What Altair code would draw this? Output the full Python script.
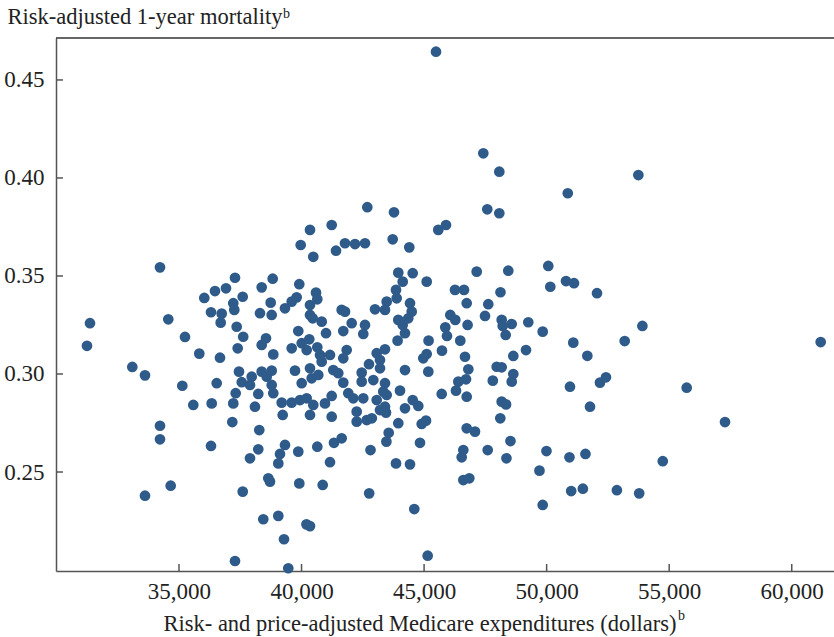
import altair as alt
import pandas as pd

# Risk- and price-adjusted Medicare expenditures (dollars)
expenditure = [
    31246, 31369, 34225, 34563, 35245, 35828, 36673, 33095, 33613, 35135,
    36538, 36032, 36469, 36918, 36306, 36742, 36701, 37285, 37215, 37256,
    37354, 37620, 37395, 37448, 37560, 37313, 35583, 36334, 37215, 34225,
    34225, 37175, 36306, 34661, 33613, 37285, 37600, 40345, 41230, 39965,
    40479, 41406, 41773, 42181, 42589, 38374, 38823, 37599, 39908, 40590,
    39802, 39598, 39324, 38741, 38305, 38782, 40345, 40643, 40345, 40455,
    40822, 40998, 41638, 41773, 42046, 41703, 42589, 42519, 38550, 38374,
    38847, 39867, 39598, 40006, 40316, 40210, 40643, 40753, 40822, 41161,
    41842, 41703, 37966, 38374, 38782, 38578, 38782, 37897, 39733, 40345,
    40006, 40414, 40683, 41295, 41499, 41703, 42454, 42454, 38235, 38100,
    38847, 39190, 39598, 39937, 40210, 40479, 40957, 41230, 41907, 42111,
    42519, 39231, 40345, 41230, 42250, 42250, 42660, 38276, 38235, 37897,
    39325, 39121, 39052, 39867, 40643, 41324, 41638, 41161, 42814, 38643,
    38713, 39908, 40863, 42760, 38439, 39052, 40200, 40345, 39284, 39459,
    45579, 45894, 43719, 44396, 43947, 44127, 44535, 45106, 47146, 46261,
    46628, 46738, 48117, 47619, 47485, 43854, 43882, 43474, 42997, 43405,
    44425, 44494, 44355, 43947, 44127, 44220, 43919, 45183, 46069, 46273,
    45865, 45934, 46775, 46477, 45729, 45106, 44967, 43405, 43066, 43201,
    42752, 43201, 42929, 43405, 43335, 43474, 44221, 45172, 46669, 47962,
    48166, 46805, 46711, 46397, 47803, 44017, 45718, 46302, 46738, 43066,
    43405, 44221, 44535, 44763, 48166, 48342, 42868, 43201, 43446, 43947,
    44902, 45078, 43556, 43462, 44833, 43854, 44425, 44600, 45146, 48109,
    46738, 47077, 47595, 46600, 46534, 46600, 46845, 45486, 47416, 48069,
    42683, 43772, 47578, 48069, 53742, 50862, 48435, 50067, 50790, 51116,
    50149, 52055, 48166, 48207, 48574, 49251, 49839, 48329, 53906, 51087,
    53184, 61181, 49158, 48640, 51660, 48640, 48575, 50952, 52176, 52421,
    55714, 51769, 57277, 48524, 48360, 49993, 50931, 51584, 54738, 49707,
    51001, 51478, 52866, 53776, 49839,
]

# Risk-adjusted 1-year mortality
mortality = [
    0.3144, 0.3259, 0.3544, 0.3279, 0.3189, 0.3104, 0.3083, 0.3036, 0.2993, 0.2940,
    0.2953, 0.3388, 0.3423, 0.3437, 0.3315, 0.3308, 0.3262, 0.3491, 0.3361, 0.3327,
    0.3241, 0.3190, 0.3131, 0.3012, 0.2958, 0.2902, 0.2842, 0.2850, 0.2850, 0.2736,
    0.2667, 0.2755, 0.2633, 0.2430, 0.2379, 0.2046, 0.2400, 0.3735, 0.3760, 0.3658,
    0.3598, 0.3629, 0.3667, 0.3663, 0.3667, 0.3442, 0.3486, 0.3394, 0.3458, 0.3415,
    0.3391, 0.3369, 0.3335, 0.3364, 0.3310, 0.3301, 0.3352, 0.3381, 0.3301, 0.3284,
    0.3267, 0.3208, 0.3327, 0.3318, 0.3259, 0.3219, 0.3250, 0.3204, 0.3182, 0.3148,
    0.3100, 0.3219, 0.3131, 0.3157, 0.3177, 0.3122, 0.3136, 0.3097, 0.3063, 0.3097,
    0.3122, 0.3080, 0.2986, 0.3012, 0.3017, 0.2986, 0.2944, 0.2944, 0.3017, 0.3029,
    0.2953, 0.2978, 0.2995, 0.3020, 0.3004, 0.2956, 0.3007, 0.2961, 0.2898, 0.2833,
    0.2902, 0.2854, 0.2854, 0.2867, 0.2876, 0.2842, 0.2850, 0.2888, 0.2902, 0.2876,
    0.2876, 0.2791, 0.2791, 0.2782, 0.2808, 0.2757, 0.2765, 0.2714, 0.2616, 0.2570,
    0.2638, 0.2592, 0.2544, 0.2604, 0.2629, 0.2649, 0.2672, 0.2550, 0.2612, 0.2468,
    0.2451, 0.2442, 0.2434, 0.2391, 0.2259, 0.2276, 0.2233, 0.2224, 0.2157, 0.2009,
    0.3735, 0.3760, 0.3687, 0.3646, 0.3517, 0.3471, 0.3514, 0.3471, 0.3522, 0.3429,
    0.3429, 0.3361, 0.3417, 0.3356, 0.3296, 0.3429, 0.3386, 0.3369, 0.3330, 0.3327,
    0.3361, 0.3318, 0.3284, 0.3276, 0.3250, 0.3208, 0.3170, 0.3170, 0.3301, 0.3276,
    0.3238, 0.3194, 0.3250, 0.3170, 0.3119, 0.3102, 0.3080, 0.3126, 0.3106, 0.3071,
    0.3050, 0.3029, 0.2969, 0.2953, 0.2910, 0.2893, 0.3020, 0.3012, 0.3088, 0.3037,
    0.3034, 0.3024, 0.2973, 0.2961, 0.2966, 0.2915, 0.2898, 0.2915, 0.2884, 0.2867,
    0.2833, 0.2825, 0.2867, 0.2837, 0.2859, 0.2845, 0.2774, 0.2816, 0.2803, 0.2749,
    0.2745, 0.2762, 0.2700, 0.2655, 0.2649, 0.2544, 0.2539, 0.2311, 0.2073, 0.2774,
    0.2723, 0.2706, 0.2612, 0.2612, 0.2575, 0.2459, 0.2468, 0.4644, 0.4126, 0.4032,
    0.3851, 0.3825, 0.3840, 0.3820, 0.4015, 0.3922, 0.3527, 0.3551, 0.3474, 0.3463,
    0.3445, 0.3412, 0.3276, 0.3245, 0.3255, 0.3264, 0.3216, 0.3199, 0.3245, 0.3160,
    0.3168, 0.3163, 0.3122, 0.3092, 0.3093, 0.3000, 0.2961, 0.2935, 0.2956, 0.2983,
    0.2930, 0.2833, 0.2755, 0.2658, 0.2570, 0.2607, 0.2575, 0.2592, 0.2555, 0.2507,
    0.2403, 0.2415, 0.2407, 0.2391, 0.2332,
]

x_ticks = [35000, 40000, 45000, 50000, 55000, 60000]
y_ticks = [0.25, 0.30, 0.35, 0.40, 0.45]
x_domain = [29982, 61724]
y_domain = [0.1995, 0.4714]

y_title = "Risk-adjusted 1-year mortality"
x_title = "Risk- and price-adjusted Medicare expenditures (dollars)"
footnote = "b"

FONT = "Liberation Serif"
DOT = "#2f5b8a"
INK = "#222222"
LINE = "#555555"
W, H = 778, 533

df = pd.DataFrame({"exp": expenditure, "mort": mortality})

xscale = alt.Scale(domain=x_domain, nice=False, zero=False)
yscale = alt.Scale(domain=y_domain, nice=False, zero=False)

x_axis = alt.Axis(
    values=x_ticks, format=",.0f", grid=False, ticks=False, tickSize=0,
    labelFont=FONT, labelFontSize=23, labelColor=INK, labelPadding=9,
    domainColor=LINE, domainWidth=1.5,
    title=x_title, titleX=107, titleY=59, titleAlign="left",
    titleBaseline="alphabetic", titleAnchor="start")
y_axis = alt.Axis(
    values=y_ticks, format=".2f", grid=False, ticks=False, tickSize=0,
    labelFont=FONT, labelFontSize=23, labelColor=INK, labelPadding=12,
    domainColor=LINE, domainWidth=1.5,
    title=y_title, titleAngle=0, titleX=-49, titleY=-15, titleAlign="left",
    titleBaseline="alphabetic", titleAnchor="start")

points = alt.Chart(df).mark_circle(size=115, color=DOT, opacity=1).encode(
    x=alt.X("exp:Q", scale=xscale, axis=x_axis),
    y=alt.Y("mort:Q", scale=yscale, axis=y_axis),
)

xt = alt.Chart(pd.DataFrame({"exp": x_ticks})).mark_rule(color=LINE, strokeWidth=1.5).encode(
    x=alt.X("exp:Q", scale=xscale, axis=x_axis), y=alt.value(H), y2=alt.value(H - 7))
yt = alt.Chart(pd.DataFrame({"mort": y_ticks})).mark_rule(color=LINE, strokeWidth=1.5).encode(
    y=alt.Y("mort:Q", scale=yscale, axis=y_axis), x=alt.value(0), x2=alt.value(7))

one = pd.DataFrame({"s": [footnote]})
top_line = alt.Chart(one).mark_rule(color="#333333", strokeWidth=1.5).encode(
    x=alt.value(0), x2=alt.value(W), y=alt.value(0))
sup1 = alt.Chart(one).mark_text(font=FONT, fontSize=14, color=INK, align="left",
                                baseline="alphabetic").encode(
    text="s:N", x=alt.value(227), y=alt.value(-20))
sup2 = alt.Chart(one).mark_text(font=FONT, fontSize=14, color=INK, align="left",
                                baseline="alphabetic").encode(
    text="s:N", x=alt.value(622), y=alt.value(582))

chart = alt.layer(points, xt, yt, top_line, sup1, sup2).properties(
    width=W, height=H,
    autosize=alt.AutoSizeParams(type="none"),
    padding={"left": 56, "top": 38, "right": 0, "bottom": 66},
    background="white",
).configure_view(stroke=None).configure_axis(
    labelFont=FONT, labelFontSize=23, labelColor=INK,
    titleFont=FONT, titleFontSize=22.5, titleFontWeight="normal", titleColor=INK,
)

chart.save("out.html", embed_options={"renderer": "svg", "actions": False})
